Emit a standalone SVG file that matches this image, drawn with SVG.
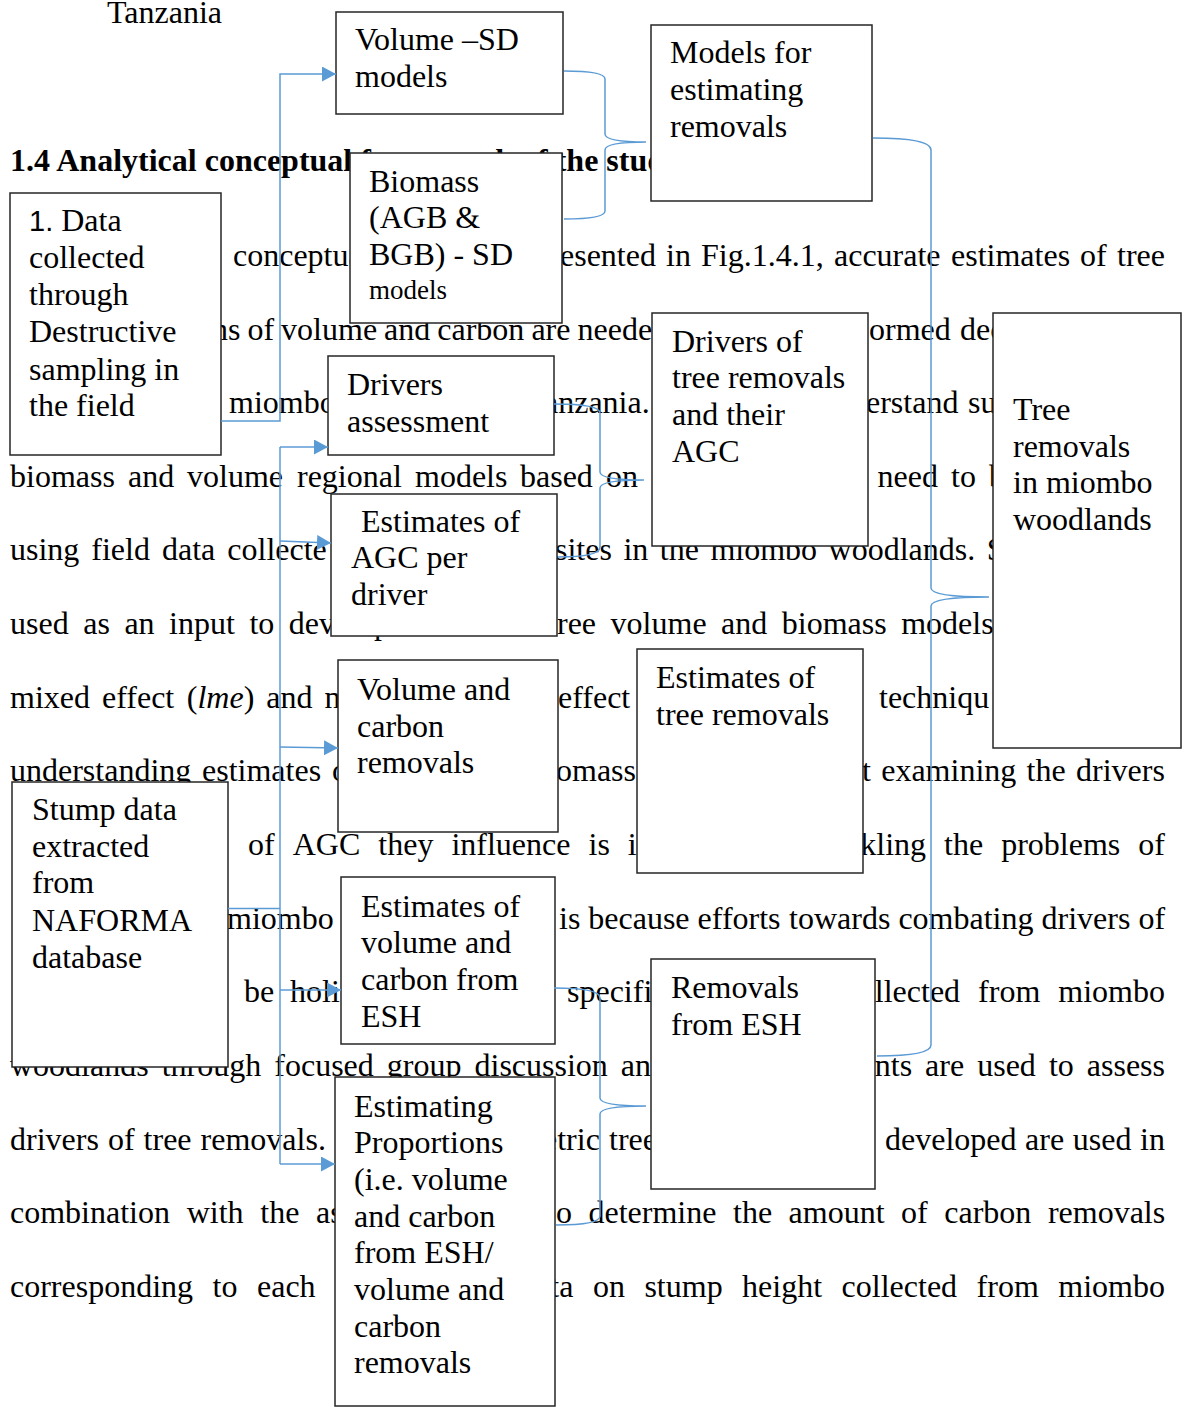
<svg xmlns="http://www.w3.org/2000/svg" width="1185" height="1407" viewBox="0 0 1185 1407">
<style>
.t{font-family:"Liberation Serif","Times New Roman",serif;font-size:32px;fill:#000}
.h{font-family:"Liberation Serif","Times New Roman",serif;font-size:32px;font-weight:bold;fill:#000}
.bx{fill:#fff;stroke:#262626;stroke-width:1.5}
.bt{font-family:"Liberation Serif","Times New Roman",serif;font-size:32px;fill:#000}
.c{fill:none;stroke:#5B9BD5;stroke-width:1.5}
</style>
<defs>
<marker id="ah" markerUnits="userSpaceOnUse" markerWidth="15" markerHeight="16" refX="14" refY="7.5" orient="auto">
<path d="M0,0 L14,7.5 L0,15 z" fill="#5B9BD5"/>
</marker>
</defs>
<rect width="1185" height="1407" fill="#fff"/>
<g id="page-text">
<text class="t" x="107" y="23">Tanzania</text>
<text class="h" x="10" y="171">1.4 Analytical conceptual framework of the study</text>
<text class="t" y="266"><tspan x="233">conceptua</tspan><tspan x="560">esented</tspan><tspan x="666">in</tspan><tspan x="701">Fig.1.4.1,</tspan><tspan x="834">accurate</tspan><tspan x="951">estimates</tspan><tspan x="1080">of</tspan><tspan x="1117">tree</tspan></text>
<text class="t" y="340"><tspan x="212">ns</tspan><tspan x="247.4">of</tspan><tspan x="281.1">volume</tspan><tspan x="384.1">and</tspan><tspan x="437.3">carbon</tspan><tspan x="531.4">are</tspan><tspan x="577.5">neede</tspan><tspan x="869">ormed</tspan><tspan x="960">dec</tspan></text>
<text class="t" y="413"><tspan x="229">miombo</tspan><tspan x="544">anzania.</tspan><tspan x="866">erstand</tspan><tspan x="968">su</tspan></text>
<text class="t" y="487"><tspan x="10">biomass</tspan><tspan x="128">and</tspan><tspan x="187">volume</tspan><tspan x="297">regional</tspan><tspan x="415">models</tspan><tspan x="520">based</tspan><tspan x="606">on</tspan><tspan x="877.5">need</tspan><tspan x="951">to</tspan><tspan x="989">b</tspan></text>
<text class="t" y="560"><tspan x="10">using</tspan><tspan x="91.3">field</tspan><tspan x="162">data</tspan><tspan x="227.3">collecte</tspan><tspan x="555">sites</tspan><tspan x="623.4">in</tspan><tspan x="659.8">the</tspan><tspan x="710.4">miombo</tspan><tspan x="828.6">woodlands.</tspan><tspan x="986.8">S</tspan></text>
<text class="t" y="634"><tspan x="10">used</tspan><tspan x="83.2">as</tspan><tspan x="124.4">an</tspan><tspan x="169.1">input</tspan><tspan x="249.4">to</tspan><tspan x="288.8">develop</tspan><tspan x="557">ree</tspan><tspan x="610.6">volume</tspan><tspan x="721.1">and</tspan><tspan x="781.8">biomass</tspan><tspan x="901.2">models</tspan></text>
<text class="t" y="708"><tspan x="10">mixed</tspan><tspan x="102">effect</tspan><tspan x="186.8">(<tspan font-style="italic">lme</tspan>)</tspan><tspan x="266.3">and</tspan><tspan x="324.5">n</tspan><tspan x="558">effect</tspan><tspan x="879">techniqu</tspan></text>
<text class="t" y="781"><tspan x="10">understanding</tspan><tspan x="202">estimates</tspan><tspan x="332">o</tspan><tspan x="556">omass</tspan><tspan x="862">t</tspan><tspan x="881.2">examining</tspan><tspan x="1026.6">the</tspan><tspan x="1076">drivers</tspan></text>
<text class="t" y="855"><tspan x="248">of</tspan><tspan x="292.7">AGC</tspan><tspan x="378.3">they</tspan><tspan x="451.4">influence</tspan><tspan x="588.5">is</tspan><tspan x="627.8">i</tspan><tspan x="860.3">kling</tspan><tspan x="944.1">the</tspan><tspan x="1001.2">problems</tspan><tspan x="1138.3">of</tspan></text>
<text class="t" y="929"><tspan x="227">miombo</tspan><tspan x="559">is</tspan><tspan x="588.3">because</tspan><tspan x="697.6">efforts</tspan><tspan x="789.1">towards</tspan><tspan x="898.4">combating</tspan><tspan x="1041.5">drivers</tspan><tspan x="1138.4">of</tspan></text>
<text class="t" y="1002"><tspan x="244">be</tspan><tspan x="290">holi</tspan><tspan x="567">specifi</tspan><tspan x="874.8">llected</tspan><tspan x="978.1">from</tspan><tspan x="1058.3">miombo</tspan></text>
<text class="t" y="1076"><tspan x="10">woodlands</tspan><tspan x="161.7">through</tspan><tspan x="274.3">focused</tspan><tspan x="386.8">group</tspan><tspan x="474.5">discussion</tspan><tspan x="620.8">an</tspan><tspan x="874.8">nts</tspan><tspan x="925.1">are</tspan><tspan x="977.2">used</tspan><tspan x="1048.9">to</tspan><tspan x="1086.8">assess</tspan></text>
<text class="t" y="1150"><tspan x="10">drivers</tspan><tspan x="107.9">of</tspan><tspan x="143.6">tree</tspan><tspan x="200.6">removals.</tspan><tspan x="543">etric</tspan><tspan x="609">tree</tspan><tspan x="885">developed</tspan><tspan x="1025.1">are</tspan><tspan x="1072.8">used</tspan><tspan x="1140.1">in</tspan></text>
<text class="t" y="1223"><tspan x="10">combination</tspan><tspan x="186.7">with</tspan><tspan x="260.3">the</tspan><tspan x="316.1">as</tspan><tspan x="556">o</tspan><tspan x="588.5">determine</tspan><tspan x="733">the</tspan><tspan x="788.6">amount</tspan><tspan x="901.1">of</tspan><tspan x="944.3">carbon</tspan><tspan x="1047.9">removals</tspan></text>
<text class="t" y="1297"><tspan x="10">corresponding</tspan><tspan x="212.6">to</tspan><tspan x="257">each</tspan><tspan x="550.3">ta</tspan><tspan x="592.9">on</tspan><tspan x="644.4">stump</tspan><tspan x="742.1">height</tspan><tspan x="841.6">collected</tspan><tspan x="976.6">from</tspan><tspan x="1058.3">miombo</tspan></text>
</g>
<g id="n-volume-sd"><rect class="bx" x="336" y="12" width="227" height="102"/><text class="bt"><tspan x="355" y="50">Volume –SD</tspan><tspan x="355" y="87">models</tspan></text></g>
<g id="n-models-removals"><rect class="bx" x="651" y="25" width="221" height="176"/><text class="bt"><tspan x="670" y="63">Models for</tspan><tspan x="670" y="100">estimating</tspan><tspan x="670" y="137">removals</tspan></text></g>
<g id="n-biomass-sd"><rect class="bx" x="350" y="153" width="212" height="170"/><text class="bt"><tspan x="369" y="192">Biomass</tspan><tspan x="369" y="228">(AGB &amp;</tspan><tspan x="369" y="265">BGB) - SD</tspan><tspan x="369" y="299" font-size="27">models</tspan></text></g>
<g id="n-data"><rect class="bx" x="10" y="193" width="211" height="262"/><text class="bt"><tspan x="29" y="231" font-family="Liberation Sans, Arial, sans-serif" font-size="29">1.</tspan><tspan dx="8">Data</tspan><tspan x="29" y="268">collected</tspan><tspan x="29" y="305">through</tspan><tspan x="29" y="342">Destructive</tspan><tspan x="29" y="380">sampling in</tspan><tspan x="29" y="416">the field</tspan></text></g>
<g id="n-drivers-assessment"><rect class="bx" x="328" y="356" width="226" height="99"/><text class="bt"><tspan x="347" y="395">Drivers</tspan><tspan x="347" y="432">assessment</tspan></text></g>
<g id="n-agc-driver"><rect class="bx" x="331" y="494" width="226" height="142"/><text class="bt"><tspan x="361" y="532">Estimates of</tspan><tspan x="351" y="568">AGC per</tspan><tspan x="351" y="605">driver</tspan></text></g>
<g id="n-drivers-agc"><rect class="bx" x="652" y="313" width="216" height="233"/><text class="bt"><tspan x="672" y="352">Drivers of</tspan><tspan x="672" y="388">tree removals</tspan><tspan x="672" y="425">and their</tspan><tspan x="672" y="462">AGC</tspan></text></g>
<g id="n-tree-removals"><rect class="bx" x="993" y="313" width="188" height="435"/><text class="bt"><tspan x="1013" y="420">Tree</tspan><tspan x="1013" y="457">removals</tspan><tspan x="1013" y="493">in miombo</tspan><tspan x="1013" y="530">woodlands</tspan></text></g>
<g id="n-vol-carbon-removals"><rect class="bx" x="338" y="660" width="220" height="172"/><text class="bt"><tspan x="357" y="700">Volume and</tspan><tspan x="357" y="737">carbon</tspan><tspan x="357" y="773">removals</tspan></text></g>
<g id="n-est-tree-removals"><rect class="bx" x="637" y="649" width="226" height="224"/><text class="bt"><tspan x="656" y="688">Estimates of</tspan><tspan x="656" y="725">tree removals</tspan></text></g>
<g id="n-stump"><rect class="bx" x="12" y="782" width="216" height="285"/><text class="bt"><tspan x="32" y="820">Stump data</tspan><tspan x="32" y="857">extracted</tspan><tspan x="32" y="893">from</tspan><tspan x="32" y="931">NAFORMA</tspan><tspan x="32" y="968">database</tspan></text></g>
<g id="n-est-esh"><rect class="bx" x="341" y="877" width="214" height="167"/><text class="bt"><tspan x="361" y="917">Estimates of</tspan><tspan x="361" y="953">volume and</tspan><tspan x="361" y="990">carbon from</tspan><tspan x="361" y="1027">ESH</tspan></text></g>
<g id="n-removals-esh"><rect class="bx" x="651" y="959" width="224" height="230"/><text class="bt"><tspan x="671" y="998">Removals</tspan><tspan x="671" y="1035">from ESH</tspan></text></g>
<g id="n-proportions"><rect class="bx" x="335" y="1077" width="220" height="329"/><text class="bt"><tspan x="354" y="1117">Estimating</tspan><tspan x="354" y="1153">Proportions</tspan><tspan x="354" y="1190">(i.e. volume</tspan><tspan x="354" y="1227">and carbon</tspan><tspan x="354" y="1263">from ESH/</tspan><tspan x="354" y="1300">volume and</tspan><tspan x="354" y="1337">carbon</tspan><tspan x="354" y="1373">removals</tspan></text></g>
<g id="connectors">
<path class="c" d="M221,421 H280 V74 H336" marker-end="url(#ah)"/>
<path class="c" d="M228,908.5 H280" stroke-width="2.5"/>
<path class="c" d="M280,447 V1164"/>
<path class="c" d="M280,447 H328" marker-end="url(#ah)"/>
<path class="c" d="M280,541 L331,543" marker-end="url(#ah)"/>
<path class="c" d="M280,747 L338,748" marker-end="url(#ah)"/>
<path class="c" d="M280,990 H341" marker-end="url(#ah)"/>
<path class="c" d="M280,1164 H335" marker-end="url(#ah)"/>
<path class="c" d="M564,71 Q605,71 605,79 V134 Q605,142 646,142 Q605,142 605,150 V211 Q605,219 564,219"/>
<path class="c" d="M873,138 Q931,138 931,150 V588 Q931,597 989,597 Q931,597 931,606 V1045 Q931,1056 877,1056"/>
<path class="c" d="M554,404 Q600,404 600,413 V472 Q600,480 644,480 Q600,480 600,488 V547 Q600,557 558,557"/>
<path class="c" d="M554,988 Q600,988 600,998 V1098 Q600,1106 646,1106 Q600,1106 600,1114 V1216 Q600,1225 556,1225"/>
</g>
</svg>
